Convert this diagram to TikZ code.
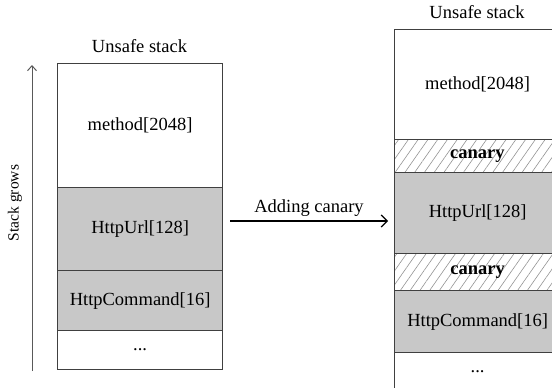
\documentclass[tikz,border=0pt]{standalone}
\usepackage{fontspec}
\setmainfont{Liberation Serif}
\usetikzlibrary{patterns.meta,arrows.meta}
\definecolor{cellgray}{HTML}{C8C8C8}
\definecolor{edge}{HTML}{404040}
\tikzset{
  cell/.style={draw=edge, line width=1.3pt, rectangle, anchor=north west, inner sep=0pt, font=\fontsize{18.5}{20}\selectfont},
  graycell/.style={cell, fill=cellgray},
  canarycell/.style={cell, pattern={Lines[angle=55,distance=8pt,line width=0.6pt]}, pattern color=gray!85, font=\fontsize{18.5}{20}\selectfont\bfseries},
  title/.style={font=\fontsize{18.5}{20}\selectfont},
}
\begin{document}
\begin{tikzpicture}[x=1pt,y=-1pt]
\useasboundingbox (0,0) rectangle (552,388);
\clip (0,0) rectangle (552,388);
% left stack
\node[title] (t1) at (139.5,46) {Unsafe stack};
\node[cell, minimum width=165pt, minimum height=124pt] (l1) at (57,63) {method[2048]};
\node[graycell, minimum width=165pt, minimum height=83pt] (l2) at (57,187) {HttpUrl[128]};
\node[graycell, minimum width=165pt, minimum height=60pt] (l3) at (57,270) {HttpCommand[16]};
\node[cell, minimum width=165pt, minimum height=39pt] (l4) at (57,330) {...};
% stack grows arrow
\coordinate (g0) at (32,371);
\coordinate (g1) at (32,65);
\draw[gray!70!black, line width=1pt, -{Straight Barb[length=5pt,width=9pt]}] (g0) -- (g1);
\node[rotate=90, font=\fontsize{15.5}{18}\selectfont] (sg) at (15,203) {Stack grows};
% adding canary arrow
\coordinate (a0) at (230,221);
\coordinate (a1) at (388,221);
\draw[line width=1.2pt, -{Straight Barb[length=6pt,width=12pt]}] (a0) -- (a1) node[midway, above=1pt, title] (ac) {Adding canary};
% right stack
\node[title] (t2) at (477,12) {Unsafe stack};
\node[cell, minimum width=166pt, minimum height=110pt] (r1) at (394,29) {method[2048]};
\node[canarycell, minimum width=166pt, minimum height=33pt] (r2) at (394,139) {canary};
\node[graycell, minimum width=166pt, minimum height=81pt] (r3) at (394,172) {HttpUrl[128]};
\node[canarycell, minimum width=166pt, minimum height=37pt] (r4) at (394,253) {canary};
\node[graycell, minimum width=166pt, minimum height=62pt] (r5) at (394,290) {HttpCommand[16]};
\node[cell, minimum width=166pt, minimum height=38pt] (r6) at (394,352) {...};
\end{tikzpicture}
\end{document}
